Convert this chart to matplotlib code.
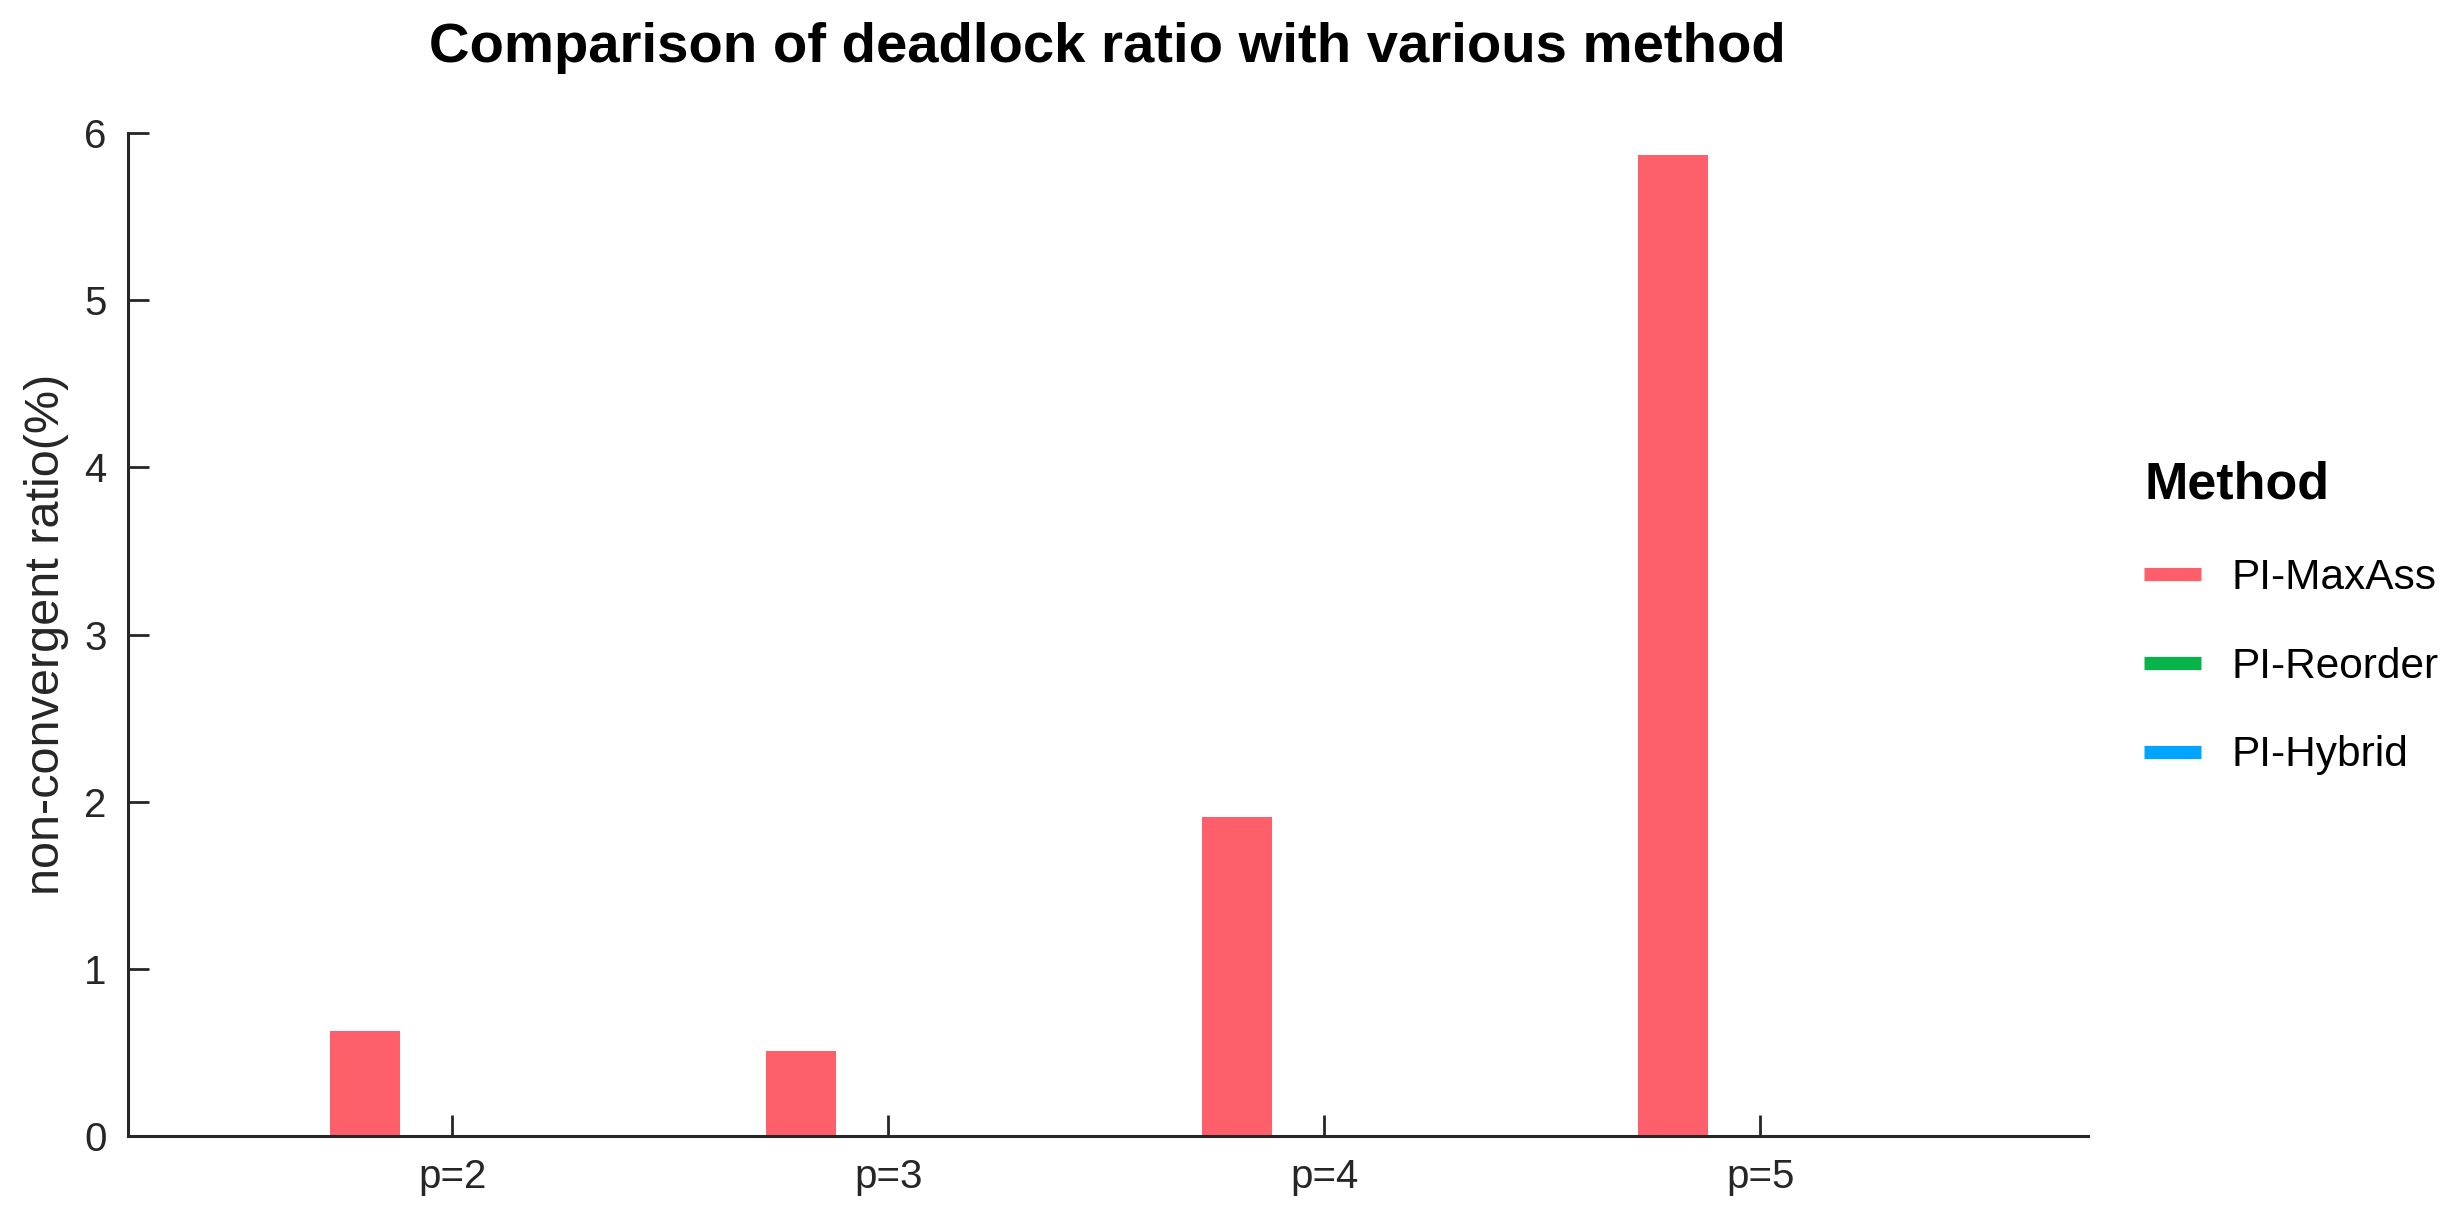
import numpy as np
import matplotlib
matplotlib.use("Agg")
import matplotlib.pyplot as plt
from matplotlib.lines import Line2D

plt.rcParams['font.family'] = ['Liberation Sans', 'DejaVu Sans']

groups = ["p=2", "p=3", "p=4", "p=5"]
methods = ["PI-MaxAss", "PI-Reorder", "PI-Hybrid"]
maxass = [0.63, 0.51, 1.91, 5.87]
reorder = [0.0, 0.0, 0.0, 0.0]
hybrid = [0.0, 0.0, 0.0, 0.0]
colors = ["#FF5E6B", "#08B44A", "#00A5FF"]

fig = plt.figure(figsize=(24.53, 12.21), dpi=100)
ax = fig.add_axes([0.052, 0.0696, 0.799, 0.8214])

x = np.arange(1, len(groups) + 1)
width = 0.16
for i, (vals, c) in enumerate(zip([maxass, reorder, hybrid], colors)):
    ax.bar(x + (i - 1) * 0.2, vals, width=width, color=c, linewidth=0)

ax.set_xlim(0.255, 4.75)
ax.set_ylim(0, 6)
ax.set_xticks(x)
ax.set_xticklabels(groups)
ax.set_yticks(range(0, 7))

for s in ["top", "right"]:
    ax.spines[s].set_visible(False)
for s in ["left", "bottom"]:
    ax.spines[s].set_linewidth(2.2)
    ax.spines[s].set_color("#262626")

ax.tick_params(direction="in", length=15, width=2, color="#262626",
               labelsize=29, labelcolor="#262626")
ax.tick_params(axis="x", pad=16)
ax.tick_params(axis="y", pad=15)

ax.set_ylabel("non-convergent ratio(%)", fontsize=35, color="#262626")
ax.yaxis.set_label_coords(-0.030, 0.5)
ax.set_title("Comparison of deadlock ratio with various method",
             fontsize=40.5, fontweight="bold", pad=51)

handles = [Line2D([0], [0], color=c, linewidth=9.5, solid_capstyle="butt") for c in colors]
leg = fig.legend(handles, methods, loc="center left", bbox_to_anchor=(0.8586, 0.494),
                 frameon=False, fontsize=30.5, title="Method", title_fontsize=37.5,
                 handlelength=1.35, labelspacing=1.15, handletextpad=0.72)
leg.get_title().set_fontweight("bold")
leg._legend_box.align = "left"

fig.savefig("out.png", dpi=100)
